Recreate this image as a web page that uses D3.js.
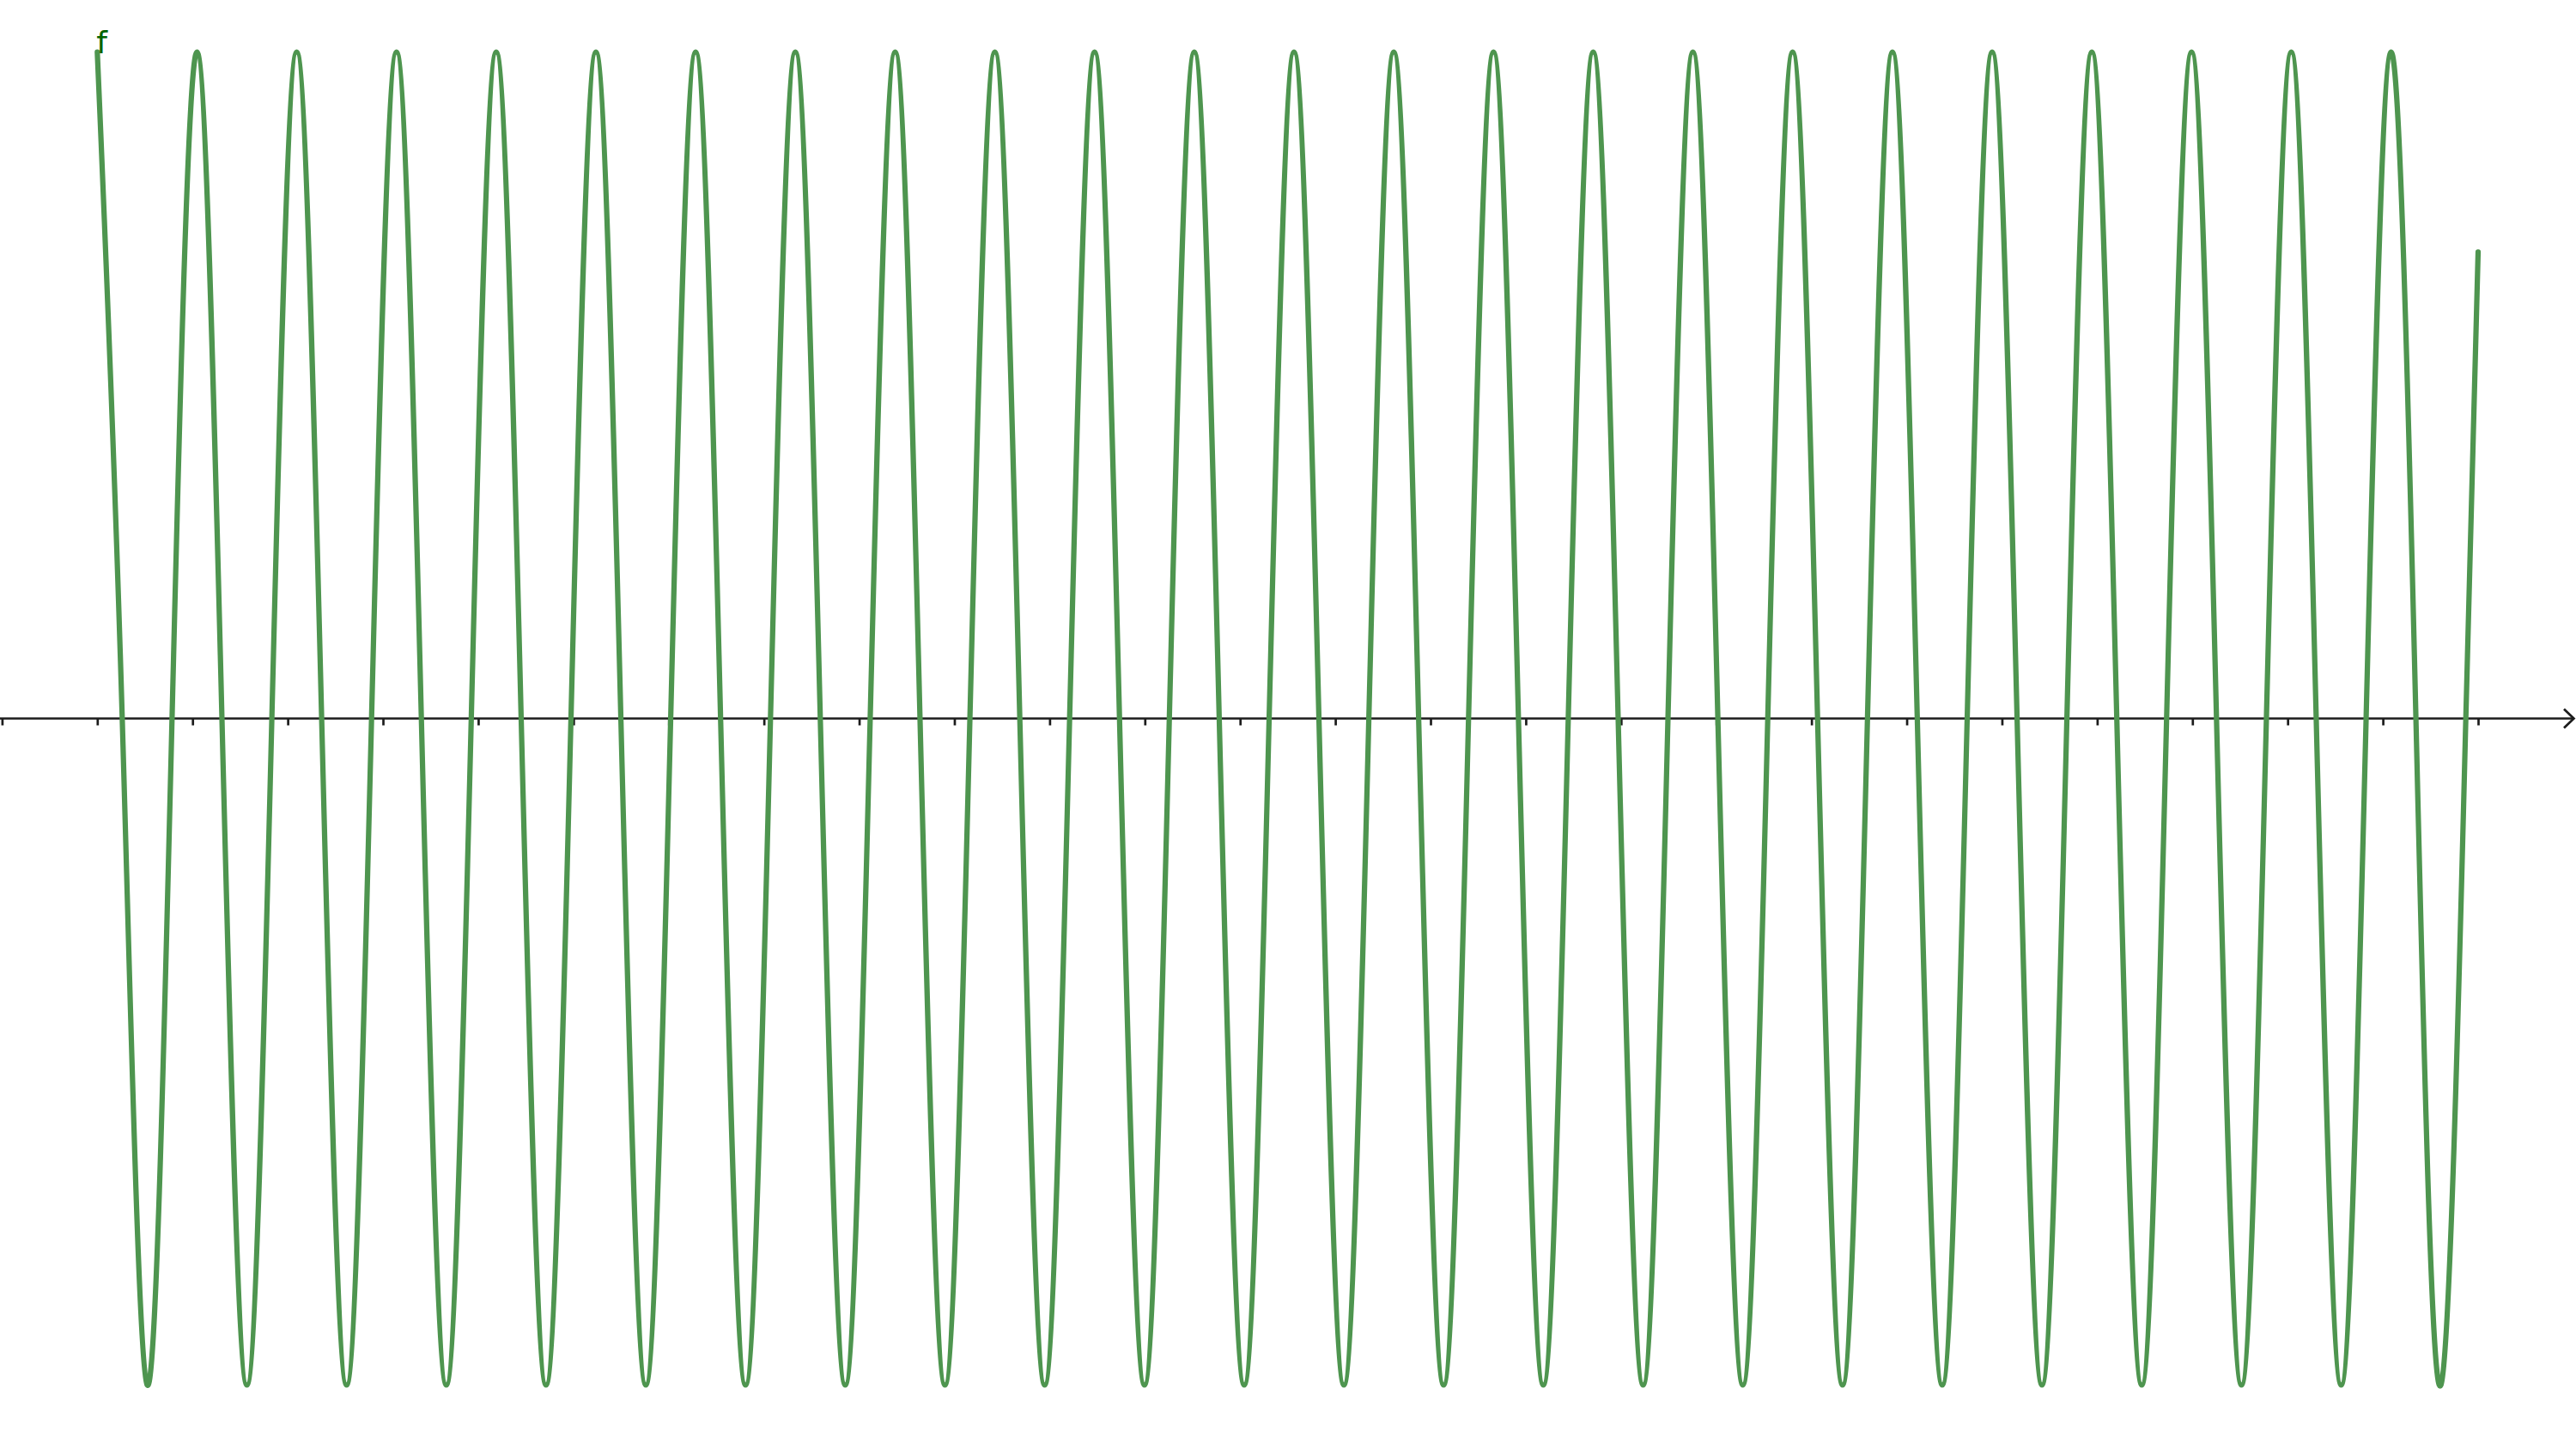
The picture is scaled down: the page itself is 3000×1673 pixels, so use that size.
<!DOCTYPE html>
<html>
<head>
<meta charset="utf-8">
<script src="https://cdn.jsdelivr.net/npm/d3@7"></script>
<style>
  html, body { margin: 0; padding: 0; background: #ffffff; }
  svg { display: block; }
</style>
</head>
<body>
<svg id="chart" width="3000" height="1673"></svg>
<script>
// ---- data ----
const functionName = "f";
const xTicks = d3.range(-1, 26);           // tick positions on the x axis (-1 … 25)
const peakX = [0, 1.047, 2.094, 3.142, 4.189, 5.236, 6.283, 7.330, 8.378, 9.425, 10.472, 11.519,
  12.566, 13.614, 14.661, 15.708, 16.755, 17.802, 18.850, 19.897, 20.944, 21.991, 23.038, 24.086];
const troughX = [0.524, 1.571, 2.618, 3.665, 4.712, 5.760, 6.807, 7.854, 8.901, 9.948, 10.996, 12.043,
  13.090, 14.137, 15.184, 16.232, 17.279, 18.326, 19.373, 20.420, 21.468, 22.515, 23.562, 24.609];
const zeroX = [0.262, 0.785, 1.309, 1.833, 2.356, 2.880, 3.403, 3.927, 4.451, 4.974, 5.498, 6.021,
  6.545, 7.069, 7.592, 8.116, 8.639, 9.163, 9.687, 10.210, 10.734, 11.257, 11.781, 12.305,
  12.828, 13.352, 13.875, 14.399, 14.923, 15.446, 15.970, 16.493, 17.017, 17.541, 18.064, 18.588,
  19.111, 19.635, 20.159, 20.682, 21.206, 21.729, 22.253, 22.777, 23.300, 23.824, 24.347, 24.871];
const peakValue = 1;
const troughValue = -1;
const endPoint = [25, 0.70];

// build the point table
const points = []
  .concat(peakX.map(x => [x, peakValue]))
  .concat(troughX.map(x => [x, troughValue]))
  .concat(zeroX.map(x => [x, 0]))
  .concat([endPoint])
  .sort((a, b) => a[0] - b[0]);

// ---- drawing ----
const W = 3000, H = 1673;
const svg = d3.select("#chart");
svg.append("rect").attr("width", W).attr("height", H).attr("fill", "#ffffff");

const x = d3.scaleLinear().domain([0, 25]).range([113.3, 2886]);
const y = d3.scaleLinear().domain([-1, 1]).range([1612.5, 60.5]);
const y0 = y(0);

// axis line with arrow
const axisG = svg.append("g");
axisG.append("line")
  .attr("x1", 0).attr("x2", 2997)
  .attr("y1", y0).attr("y2", y0)
  .attr("stroke", "#1c1c1c").attr("stroke-width", 2.7);
axisG.append("path")
  .attr("d", `M${2986},${y0 - 11} L${2997.5},${y0} L${2986},${y0 + 11}`)
  .attr("fill", "none").attr("stroke", "#1c1c1c").attr("stroke-width", 2.7)
  .attr("stroke-linejoin", "miter");

// ticks via d3 axis
const xAxis = d3.axisBottom(x)
  .tickValues(xTicks)
  .tickSize(8)
  .tickFormat("");
const tickG = svg.append("g")
  .attr("transform", `translate(0,${y0})`)
  .call(xAxis);
tickG.select(".domain").remove();
tickG.selectAll(".tick line")
  .attr("stroke", "#1c1c1c").attr("stroke-width", 2.7);

// function curve
const line = d3.line()
  .x(d => x(d[0]))
  .y(d => y(d[1]))
  .curve(d3.curveNatural);

svg.append("path")
  .datum(points)
  .attr("d", line)
  .attr("fill", "none")
  .attr("stroke", "#4e954f")
  .attr("stroke-width", 6.2)
  .attr("stroke-linecap", "round")
  .attr("stroke-linejoin", "round");

// label
svg.append("text")
  .attr("x", x(0) - 1)
  .attr("y", 61.5)
  .attr("font-family", "DejaVu Sans, sans-serif")
  .attr("font-size", 36)
  .attr("fill", "#006400")
  .text(functionName);
</script>
</body>
</html>
